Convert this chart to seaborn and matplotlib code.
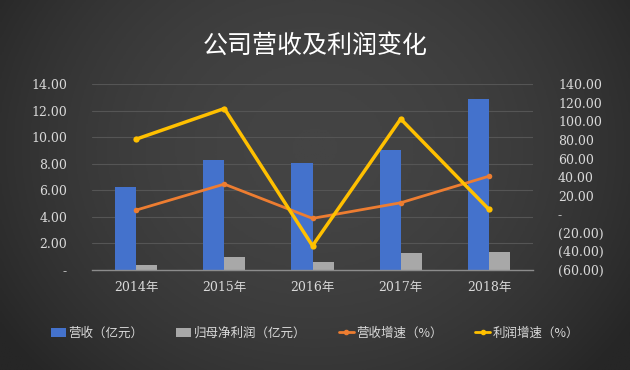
import numpy as np
import pandas as pd
import seaborn as sns
import matplotlib.pyplot as plt
from matplotlib.patches import Patch
from matplotlib.lines import Line2D
from matplotlib.ticker import FuncFormatter

years = ["2014年", "2015年", "2016年", "2017年", "2018年"]
revenue = [6.25, 8.28, 8.03, 9.08, 12.87]
net_profit = [0.38, 0.98, 0.63, 1.30, 1.35]
revenue_growth = [4.5, 32.5, -4.4, 12.4, 41.0]
profit_growth = [80.9, 113.9, -33.9, 102.7, 5.3]
series_names = ["营收（亿元）", "归母净利润（亿元）", "营收增速（%）", "利润增速（%）"]
title = "公司营收及利润变化"

sns.set_theme(style="dark")
plt.rcParams['font.family'] = ['Noto Sans CJK SC', 'DejaVu Sans']
plt.rcParams['axes.unicode_minus'] = False
tick_family = ['DejaVu Serif', 'Noto Sans CJK SC']

fig = plt.figure(figsize=(6.3, 3.7), dpi=100)
fig.patch.set_facecolor('#333333')

# background gradient
bg = fig.add_axes([0, 0, 1, 1], zorder=-10)
xx = np.linspace(-1, 1, 300)
yy = np.linspace(-1, 1, 200)
X, Y = np.meshgrid(xx, yy)
val = 1 - 0.55 * (X ** 2) - 0.25 * (Y + 0.2) ** 2
bg.imshow(val, cmap=sns.blend_palette(['#262626', '#444444'], as_cmap=True),
          aspect='auto', extent=[0, 1, 0, 1], vmin=0.2, vmax=1.0)
bg.set_axis_off()

ax = fig.add_axes([92 / 630, 1 - 270 / 370, (533 - 92) / 630, (270 - 84.3) / 370])
ax.set_facecolor('none')

df = pd.DataFrame({
    "year": years * 2,
    "value": revenue + net_profit,
    "series": [series_names[0]] * 5 + [series_names[1]] * 5,
})
sns.barplot(data=df, x="year", y="value", hue="series",
            palette=['#4472cc', '#a8a8a8'], width=0.48, ax=ax,
            legend=False, saturation=1, linewidth=0)

ax.set_xlim(-0.5, 4.5)
ax.set_ylim(0, 14)
ax.set_yticks(np.arange(0, 15, 2))
ax.yaxis.set_major_formatter(FuncFormatter(lambda v, p: "-" if abs(v) < 1e-9 else f"{v:.2f}"))
ax.grid(axis='y', color='#555555', linewidth=0.8)
ax.grid(axis='x', visible=False)
ax.set_axisbelow(True)
for s in ['top', 'right', 'left']:
    ax.spines[s].set_visible(False)
ax.spines['bottom'].set_color('#8c8c8c')
ax.spines['bottom'].set_linewidth(1)
ax.set_xlabel("")
ax.set_ylabel("")
ax.tick_params(axis='both', colors='#d9d9d9', labelsize=9, length=0)
ax.tick_params(axis='y', pad=18)
ax.tick_params(axis='x', pad=8)
for lab in ax.get_xticklabels() + ax.get_yticklabels():
    lab.set_family(tick_family)

ax2 = ax.twinx()
xs = np.arange(len(years))
sns.lineplot(x=xs, y=revenue_growth, ax=ax2, color='#ed7d31', linewidth=2,
             marker='o', markersize=4, markeredgewidth=0)
sns.lineplot(x=xs, y=profit_growth, ax=ax2, color='#ffc000', linewidth=2.5,
             marker='o', markersize=4.5, markeredgewidth=0)
ax2.set_ylim(-60, 140)
ax2.set_yticks(np.arange(-60, 141, 20))
def fmt2(v, p):
    if abs(v) < 1e-9:
        return "-"
    if v < 0:
        return f"({-v:.2f})"
    return f"{v:.2f}"
ax2.yaxis.set_major_formatter(FuncFormatter(fmt2))
ax2.tick_params(axis='y', colors='#d9d9d9', labelsize=9, length=0, pad=18)
for lab in ax2.get_yticklabels():
    lab.set_family(tick_family)
ax2.grid(False)
for s in ax2.spines.values():
    s.set_visible(False)
ax2.set_ylabel("")

fig.text(0.5, 1 - 46 / 370, title, ha='center', va='center', color='white', fontsize=18)

handles = [
    Patch(facecolor='#4472cc', edgecolor='none'),
    Patch(facecolor='#a8a8a8', edgecolor='none'),
    Line2D([0], [0], color='#ed7d31', lw=2, marker='o', markersize=3),
    Line2D([0], [0], color='#ffc000', lw=2, marker='o', markersize=3),
]
leg = fig.legend(handles, series_names, loc='center', bbox_to_anchor=(0.5, 1 - 333 / 370),
                 ncol=4, frameon=False, fontsize=9, labelcolor='#d9d9d9',
                 handlelength=1.2, handletextpad=0.2, columnspacing=2.6)

fig.savefig("out.png", dpi=100, facecolor=fig.get_facecolor())
